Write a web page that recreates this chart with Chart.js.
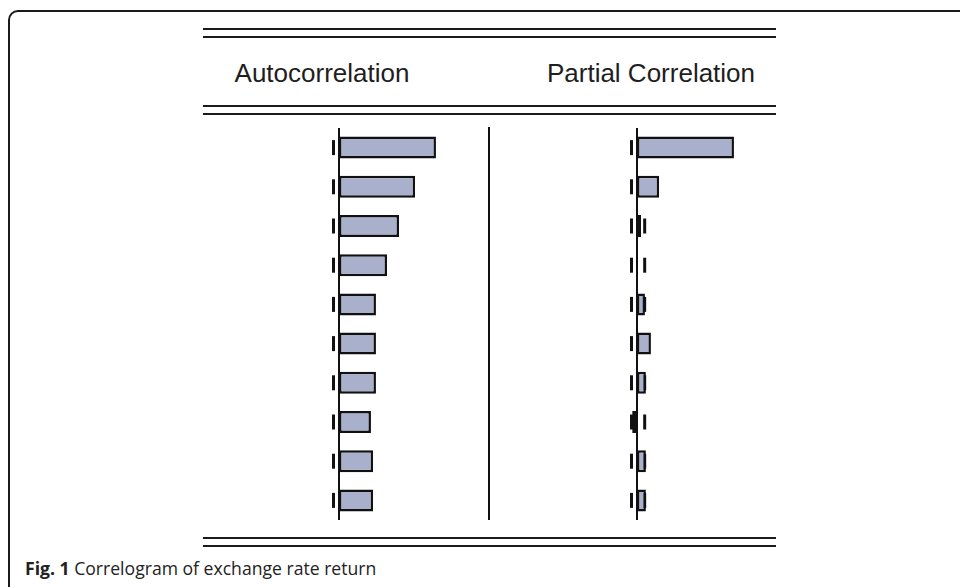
<!DOCTYPE html>
<html>
<head>
<meta charset="utf-8">
<script src="https://cdn.jsdelivr.net/npm/chart.js@4"></script>
<style>
  body { margin: 0; background: #fff; width: 960px; height: 587px; overflow: hidden; position: relative; }
  .frame { position: absolute; left: 8px; top: 10px; width: 1000px; height: 700px; border: 2px solid #1a1a1a; border-radius: 10px; }
  .hr { position: absolute; left: 203px; width: 573px; height: 2px; background: #1a1a1a; }
  .head { position: absolute; top: 58px; font-family: "Liberation Sans", Arial, sans-serif; font-size: 26px; color: #1e1e1e; white-space: nowrap; transform: translateX(-50%); }
  .sep { position: absolute; left: 488px; top: 127px; width: 2px; height: 393px; background: #111; }
  .panel { position: absolute; top: 128px; width: 192px; height: 392px; }
  .caption { position: absolute; left: 25px; top: 556px; font-family: "Open Sans", sans-serif; font-size: 17.6px; color: #222; white-space: nowrap; }
</style>
</head>
<body>
<div class="frame"></div>
<div class="hr" style="top:28px"></div>
<div class="hr" style="top:36px"></div>
<div class="head" style="left:322px">Autocorrelation</div>
<div class="head" style="left:651px">Partial Correlation</div>
<div class="hr" style="top:105px"></div>
<div class="hr" style="top:113px"></div>
<div class="sep"></div>
<div class="panel" style="left:291px"><canvas id="acfChart"></canvas></div>
<div class="panel" style="left:589px"><canvas id="pacfChart"></canvas></div>
<div class="hr" style="top:537px"></div>
<div class="hr" style="top:545px"></div>
<div class="caption"><b>Fig. 1</b> Correlogram of exchange rate return</div>

<script>
// lags 1..10
const lags = ['1', '2', '3', '4', '5', '6', '7', '8', '9', '10'];
const acfValues = [0.404, 0.317, 0.250, 0.200, 0.154, 0.154, 0.154, 0.133, 0.142, 0.142];
const pacfValues = [0.404, 0.092, 0.017, 0.002, 0.033, 0.058, 0.037, -0.020, 0.037, 0.037];
// +/- 2 std. error band
const bandLower = [-0.023, -0.023, -0.023, -0.023, -0.023, -0.023, -0.023, -0.023, -0.023, -0.023];
const bandUpper = [0.032, 0.032, 0.032, 0.032, 0.032, 0.032, 0.032, 0.032, 0.032, 0.032];

const zeroLine = {
    id: 'zeroLine',
    beforeDatasetsDraw(chart) {
        const ctx = chart.ctx;
        const x = Math.round(chart.scales.x.getPixelForValue(0));
        ctx.save();
        ctx.strokeStyle = '#111';
        ctx.lineWidth = 2;
        ctx.beginPath();
        ctx.moveTo(x, chart.chartArea.top - 1);
        ctx.lineTo(x, chart.chartArea.bottom);
        ctx.stroke();
        ctx.restore();
    }
};

function bandSet(values) {
    return {
        type: 'line',
        indexAxis: 'y',
        data: values,
        showLine: false,
        pointStyle: 'line',
        rotation: 90,
        pointRadius: 7.5,
        pointBorderWidth: 3,
        borderColor: '#111',
        order: 2
    };
}

function makeChart(id, values) {
    const ctx = document.getElementById(id).getContext('2d');
    return new Chart(ctx, {
        type: 'bar',
        data: {
            labels: lags,
            datasets: [{
                data: values,
                backgroundColor: '#a9b0cc',
                borderColor: '#111',
                borderWidth: 2.5,
                borderSkipped: false,
                barPercentage: 0.56,
                categoryPercentage: 1,
                order: 1
            }, bandSet(bandLower), bandSet(bandUpper)]
        },
        options: {
            indexAxis: 'y',
            responsive: true,
            maintainAspectRatio: false,
            animation: false,
            layout: { padding: 0, autoPadding: false },
            plugins: { legend: { display: false }, tooltip: { enabled: false } },
            scales: {
                x: { type: 'linear', min: -0.2, max: 0.6, display: false },
                y: { type: 'category', display: false, offset: true }
            }
        },
        plugins: [zeroLine]
    });
}

makeChart('acfChart', acfValues);
makeChart('pacfChart', pacfValues);
</script>
</body>
</html>
